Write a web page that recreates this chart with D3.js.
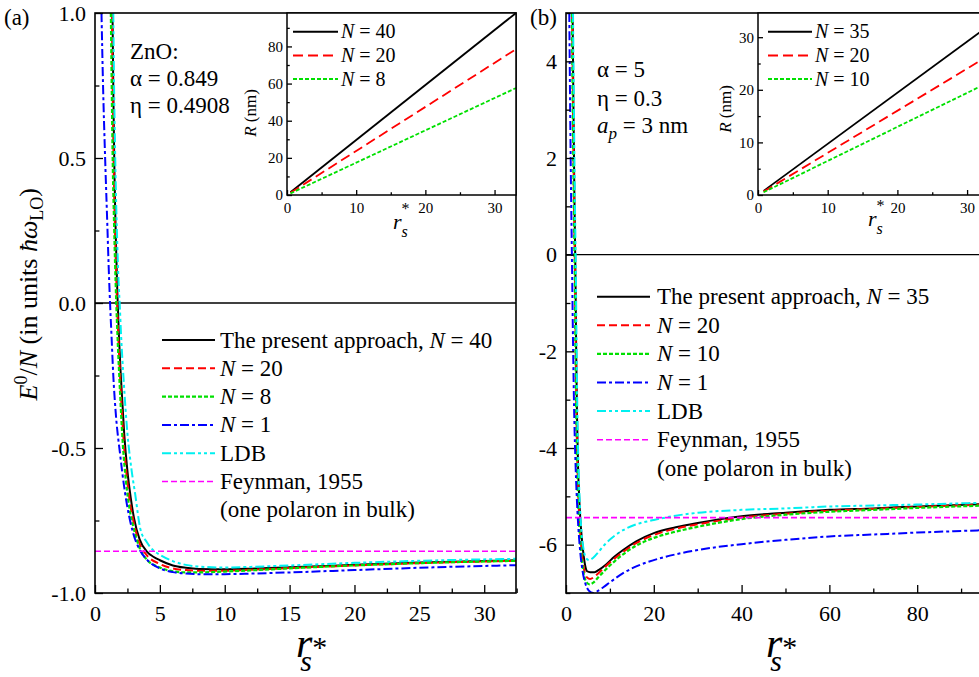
<!DOCTYPE html>
<html><head><meta charset="utf-8">
<script src="https://cdn.jsdelivr.net/npm/d3@7"></script>
</head><body style="margin:0">
<svg id="chart" width="979" height="677"></svg>
<script>
// ---- panel (a): ZnO, E0/N vs rs* ----
var aN40 = [[1.35,1.0],[1.40,0.78],[1.45,0.6],[1.50,0.45],[1.55,0.33],[1.62,0.2],[1.70,0.07],[1.75,0],[1.85,-0.12],[2.0,-0.26],[2.25,-0.45],[2.5,-0.58],[2.75,-0.67],[3.0,-0.74],[3.44,-0.815],[4,-0.857],[4.5,-0.875],[5,-0.887],[6,-0.905],[7,-0.913],[8,-0.917],[10,-0.918],[12,-0.916],[15,-0.911],[20,-0.903],[25,-0.895],[32.5,-0.887]]
var aN20 = [[1.30,1.0],[1.35,0.78],[1.40,0.6],[1.45,0.45],[1.50,0.33],[1.57,0.2],[1.65,0.07],[1.70,0],[1.80,-0.12],[1.95,-0.27],[2.2,-0.47],[2.45,-0.6],[2.7,-0.69],[3.0,-0.76],[3.44,-0.83],[4,-0.87],[5,-0.9],[6,-0.915],[7,-0.921],[8,-0.923],[10,-0.923],[12,-0.92],[15,-0.914],[20,-0.905],[25,-0.897],[32.5,-0.889]]
var aN8 = [[1.22,1.0],[1.28,0.78],[1.33,0.6],[1.38,0.45],[1.44,0.33],[1.51,0.2],[1.59,0.07],[1.64,0],[1.74,-0.12],[1.9,-0.28],[2.15,-0.49],[2.4,-0.62],[2.7,-0.72],[3.0,-0.78],[3.44,-0.845],[4,-0.885],[5,-0.912],[6,-0.925],[7,-0.929],[8,-0.929],[10,-0.926],[12,-0.922],[15,-0.915],[20,-0.905],[25,-0.897],[32.5,-0.889]]
var aN1 = [[0.5,1.0],[0.62,0.75],[0.78,0.5],[0.95,0.27],[1.05,0.13],[1.16,0],[1.28,-0.12],[1.41,-0.25],[1.6,-0.38],[1.93,-0.52],[2.3,-0.65],[2.95,-0.795],[3.5,-0.855],[4,-0.885],[5,-0.915],[6,-0.928],[7,-0.933],[8,-0.935],[10,-0.935],[12,-0.933],[15,-0.929],[20,-0.921],[25,-0.913],[32.5,-0.904]]
var aLDB = [[1.41,1.0],[1.46,0.78],[1.52,0.6],[1.58,0.45],[1.64,0.33],[1.72,0.2],[1.82,0.07],[1.9,0],[2.02,-0.12],[2.2,-0.26],[2.5,-0.45],[2.8,-0.57],[3.1,-0.66],[3.5,-0.78],[4,-0.825],[4.5,-0.853],[5,-0.868],[6,-0.89],[7,-0.903],[8,-0.909],[10,-0.912],[12,-0.91],[15,-0.905],[20,-0.896],[25,-0.889],[32.5,-0.882]]
var aFeynman = -0.856

// ---- panel (b): alpha = 5 ----
var bN35 = [[1.5,5.0],[1.7,3.0],[1.9,1.3],[2.05,0.3],[2.15,-0.4],[2.3,-1.8],[2.5,-3.3],[2.75,-4.4],[3.04,-5.1],[3.4,-5.65],[3.8,-6.05],[4.3,-6.4],[4.8,-6.55],[5.5,-6.57],[6.5,-6.57],[7.5,-6.52],[9,-6.42],[11,-6.25],[13,-6.11],[16,-5.93],[20,-5.76],[25,-5.64],[30,-5.55],[40,-5.41],[50,-5.34],[60,-5.28],[70,-5.25],[80,-5.21],[95.5,-5.16]]
var bN20 = [[1.4,5.0],[1.6,3.0],[1.8,1.3],[1.95,0.3],[2.05,-0.4],[2.2,-1.8],[2.4,-3.4],[2.65,-4.55],[2.95,-5.3],[3.3,-5.85],[3.7,-6.25],[4.2,-6.55],[4.8,-6.68],[5.5,-6.71],[6.5,-6.66],[7.5,-6.58],[9,-6.45],[11,-6.29],[13,-6.15],[16,-5.97],[20,-5.8],[25,-5.67],[30,-5.58],[40,-5.44],[50,-5.36],[60,-5.3],[70,-5.26],[80,-5.22],[95.5,-5.17]]
var bN10 = [[1.35,5.0],[1.55,3.0],[1.75,1.3],[1.9,0.3],[2.0,-0.4],[2.15,-1.8],[2.35,-3.45],[2.6,-4.65],[2.9,-5.4],[3.25,-5.95],[3.65,-6.35],[4.15,-6.65],[4.7,-6.78],[5.4,-6.82],[6.3,-6.78],[7.5,-6.66],[9,-6.52],[11,-6.35],[13,-6.2],[16,-6.02],[20,-5.86],[25,-5.73],[30,-5.63],[40,-5.47],[50,-5.38],[60,-5.32],[70,-5.28],[80,-5.24],[95.5,-5.19]]
var bN1 = [[0.75,5.0],[0.95,3.0],[1.15,1.3],[1.3,0.3],[1.4,-0.4],[1.6,-1.8],[1.85,-3.2],[2.2,-4.4],[2.6,-5.3],[3.1,-6.0],[3.7,-6.5],[4.4,-6.8],[5.2,-6.95],[6.2,-7.0],[7.0,-6.97],[8.5,-6.88],[10,-6.78],[13,-6.59],[16,-6.45],[20,-6.32],[25,-6.2],[30,-6.11],[40,-5.99],[50,-5.9],[60,-5.83],[70,-5.79],[80,-5.75],[95.5,-5.70]]
var bLDB = [[1.6,5.0],[1.8,3.0],[2.0,1.3],[2.15,0.3],[2.25,-0.4],[2.4,-1.8],[2.6,-3.3],[2.85,-4.4],[3.15,-5.15],[3.55,-5.75],[4.0,-6.1],[4.6,-6.28],[5.3,-6.32],[6.2,-6.27],[7.5,-6.14],[9,-5.98],[11,-5.82],[13,-5.7],[16,-5.58],[20,-5.49],[25,-5.4],[30,-5.34],[40,-5.28],[50,-5.25],[60,-5.21],[70,-5.19],[80,-5.17],[95.5,-5.13]]
var bFeynman = -5.44

// ---- insets: R (nm) vs rs* ----
var insA_N40 = [[0.5,1.48],[33.1,98]]
var insA_N20 = [[0.5,1.18],[33.1,78.5]]
var insA_N8 = [[0.5,0.87],[33.1,57.6]]
var insB_N35 = [[0.8,0.78],[32.6,31.7]]
var insB_N20 = [[0.8,0.64],[32.6,26.1]]
var insB_N10 = [[0.8,0.52],[32.6,21.1]]

var legendA = ['The present approach, N = 40', 'N = 20', 'N = 8', 'N = 1', 'LDB', 'Feynman, 1955']
var legendB = ['The present approach, N = 35', 'N = 20', 'N = 10', 'N = 1', 'LDB', 'Feynman, 1955']
var insLegendA = ['N = 40', 'N = 20', 'N = 8']
var insLegendB = ['N = 35', 'N = 20', 'N = 10']

var sty = {
  black:   {color: '#000000', dash: null, w: 2},
  red:     {color: '#ff0000', dash: '8,4', w: 2},
  green:   {color: '#00e000', dash: '4,2', w: 2.2},
  blue:    {color: '#0000ff', dash: '9,3,3,3', w: 2},
  cyan:    {color: '#00f0f0', dash: '9,3,3,3,3,3', w: 2},
  magenta: {color: '#ff00ff', dash: '6,3', w: 1.6}
}
var order = ['black', 'red', 'green', 'blue', 'cyan', 'magenta']
var FONT = 'Liberation Serif'

var svg = d3.select('#chart')

function txt(sel) {
  return sel.append('text').attr('font-family', FONT)
}

// text with italic N
function richText(sel, str) {
  var parts = str.split('N')
  parts.forEach(function(p, i) {
    if (i > 0) sel.append('tspan').attr('font-style', 'italic').text('N')
    if (p) sel.append('tspan').text(p)
  })
}

function styleAxis(g, fs) {
  g.select('.domain').remove()
  g.attr('font-family', FONT).attr('font-size', fs)
  g.selectAll('line').attr('stroke', '#000').attr('stroke-width', 1.3)
  g.selectAll('text').attr('fill', '#000')
}

function drawAxes(g, x, y, o) {
  var y0 = y.range()[0], x0 = x.range()[0]
  g.append('g').attr('transform', 'translate(0,' + y0 + ')')
    .call(d3.axisBottom(x).tickValues(o.xMajor).tickSize(-o.tl).tickPadding(o.xPad).tickFormat(o.xFmt))
    .call(styleAxis, o.fs)
  g.append('g').attr('transform', 'translate(0,' + y0 + ')')
    .call(d3.axisBottom(x).tickValues(o.xMinor).tickSize(-o.tl * 0.55).tickFormat(''))
    .call(styleAxis, o.fs)
  g.append('g').attr('transform', 'translate(' + x0 + ',0)')
    .call(d3.axisLeft(y).tickValues(o.yMajor).tickSize(-o.tl).tickPadding(o.yPad).tickFormat(o.yFmt))
    .call(styleAxis, o.fs)
  g.append('g').attr('transform', 'translate(' + x0 + ',0)')
    .call(d3.axisLeft(y).tickValues(o.yMinor).tickSize(-o.tl * 0.55).tickFormat(''))
    .call(styleAxis, o.fs)
}

function drawSeries(g, x, y, list, clip) {
  var line = d3.line().x(function(d) { return x(d[0]) }).y(function(d) { return y(d[1]) })
    .curve(d3.curveMonotoneX)
  var lg = g.append('g').attr('clip-path', 'url(#' + clip + ')')
  list.forEach(function(s) {
    var st = sty[s.key]
    lg.append('path').datum(s.data)
      .attr('d', line)
      .attr('fill', 'none')
      .attr('stroke', st.color)
      .attr('stroke-width', s.w || st.w)
      .attr('stroke-dasharray', s.dash !== undefined ? s.dash : st.dash)
  })
}

function legend(g, labels, keys, o) {
  labels.forEach(function(lab, i) {
    var yy = o.y + i * o.dy
    var st = sty[keys[i]]
    g.append('line').attr('x1', o.x1).attr('x2', o.x2).attr('y1', yy).attr('y2', yy)
      .attr('stroke', st.color).attr('stroke-width', o.w || st.w)
      .attr('stroke-dasharray', (o.dash && o.dash[i] !== undefined) ? o.dash[i] : st.dash)
    var t = txt(g).attr('x', o.tx).attr('y', yy + o.fs * 0.33).attr('font-size', o.fs)
    richText(t, lab)
  })
}

// r_s^* as one text: r, then the star raised, then s pulled back underneath
function rsTitle(g, x, y, big, small, starDy, sDx, sDy) {
  var t = txt(g).attr('x', x).attr('y', y).attr('font-size', big)
  t.append('tspan').attr('font-style', 'italic').text('r')
  t.append('tspan').attr('font-size', small).attr('dy', starDy).text('*')
  t.append('tspan').attr('font-size', small).attr('font-style', 'italic').attr('dx', sDx).attr('dy', sDy).text('s')
}

function mainPanel(o) {
  var g = svg.append('g')
  var x = d3.scaleLinear().domain(o.xd).range(o.xr)
  var y = d3.scaleLinear().domain(o.yd).range(o.yr)
  g.append('clipPath').attr('id', o.id).append('rect')
    .attr('x', o.xr[0]).attr('y', o.yr[1]).attr('width', o.xr[1] - o.xr[0]).attr('height', o.yr[0] - o.yr[1])
  // zero line
  g.append('line').attr('x1', o.xr[0]).attr('x2', o.xr[1]).attr('y1', y(0)).attr('y2', y(0))
    .attr('stroke', '#000').attr('stroke-width', 1.3)
  var list = o.series.map(function(d, i) { return {key: order[i], data: d} })
  list.push({key: 'magenta', data: [[o.xd[0], o.feyn], [o.xd[1], o.feyn]]})
  drawSeries(g, x, y, list, o.id)
  drawAxes(g, x, y, o.ax)
  g.append('rect').attr('x', o.xr[0]).attr('y', o.yr[1]).attr('width', o.xr[1] - o.xr[0]).attr('height', o.yr[0] - o.yr[1])
    .attr('fill', 'none').attr('stroke', '#000').attr('stroke-width', 1.6)
  return g
}

function inset(o) {
  var g = svg.append('g')
  var x = d3.scaleLinear().domain(o.xd).range(o.xr)
  var y = d3.scaleLinear().domain(o.yd).range(o.yr)
  g.append('rect').attr('x', o.xr[0]).attr('y', o.yr[1]).attr('width', o.xr[1] - o.xr[0]).attr('height', o.yr[0] - o.yr[1])
    .attr('fill', '#fff')
  g.append('clipPath').attr('id', o.id).append('rect')
    .attr('x', o.xr[0]).attr('y', o.yr[1]).attr('width', o.xr[1] - o.xr[0]).attr('height', o.yr[0] - o.yr[1])
  var list = o.series.map(function(d, i) {
    return {key: order[i], data: d, dash: [null, '10,5', '4,2'][i], w: 1.8}
  })
  drawSeries(g, x, y, list, o.id)
  drawAxes(g, x, y, o.ax)
  g.append('rect').attr('x', o.xr[0]).attr('y', o.yr[1]).attr('width', o.xr[1] - o.xr[0]).attr('height', o.yr[0] - o.yr[1])
    .attr('fill', 'none').attr('stroke', '#000').attr('stroke-width', 1.5)
  // axis titles
  var t = txt(g).attr('transform', 'translate(' + o.yt[0] + ',' + o.yt[1] + ') rotate(-90)')
    .attr('text-anchor', 'middle').attr('font-size', 17)
  t.append('tspan').attr('font-style', 'italic').text('R')
  t.append('tspan').text(' (nm)')
  rsTitle(g, o.xt[0], o.xt[1], 22, 16, -15, -8, 23)
  legend(g, o.labels, ['black', 'red', 'green'], {x1: o.lg[0], x2: o.lg[1], tx: o.lg[2], y: 31.7, dy: 23.7, fs: 20, w: 2,
    dash: [null, '10,5', '4,2']})
}

var axA = {xMajor: [0, 5, 10, 15, 20, 25, 30], xMinor: [2.5, 7.5, 12.5, 17.5, 22.5, 27.5, 32.5],
  yMajor: [-1, -0.5, 0, 0.5, 1], yMinor: [-0.75, -0.25, 0.25, 0.75],
  tl: 8, xPad: 12, yPad: 9, fs: 22, xFmt: function(d) { return d }, yFmt: function(d) { return d.toFixed(1) }}
var axB = {xMajor: [0, 20, 40, 60, 80], xMinor: [10, 30, 50, 70, 90],
  yMajor: [-6, -4, -2, 0, 2, 4], yMinor: [-7, -5, -3, -1, 1, 3, 5],
  tl: 8, xPad: 12, yPad: 9, fs: 22, xFmt: function(d) { return d }, yFmt: function(d) { return d }}

mainPanel({id: 'clipA', xd: [0, 32.45], xr: [95, 516], yd: [-1, 1], yr: [593, 13],
  series: [aN40, aN20, aN8, aN1, aLDB], feyn: aFeynman, ax: axA})
mainPanel({id: 'clipB', xd: [0, 95.45], xr: [566, 985], yd: [-7, 5], yr: [593, 13],
  series: [bN35, bN20, bN10, bN1, bLDB], feyn: bFeynman, ax: axB})

var insAx = function(xMinor, yMajor, yMinor) {
  return {xMajor: [0, 10, 20, 30], xMinor: xMinor, yMajor: yMajor, yMinor: yMinor,
    tl: 5, xPad: 7, yPad: 4, fs: 15, xFmt: function(d) { return d }, yFmt: function(d) { return d }}
}
inset({id: 'clipIA', xd: [0, 33.1], xr: [287, 516], yd: [0, 98], yr: [195, 13],
  series: [insA_N40, insA_N20, insA_N8], ax: insAx([5, 15, 25], [0, 20, 40, 60, 80], [10, 30, 50, 70, 90]),
  yt: [256, 113], xt: [393, 229], labels: insLegendA, lg: [293, 338, 341]})
inset({id: 'clipIB', xd: [0, 32.57], xr: [758, 985], yd: [0, 34.6], yr: [195, 13],
  series: [insB_N35, insB_N20, insB_N10], ax: insAx([5, 15, 25], [0, 10, 20, 30], [5, 15, 25]),
  yt: [731, 109], xt: [868, 226], labels: insLegendB, lg: [768, 812, 815]})

// main legends
var lgA = svg.append('g')
legend(lgA, legendA, order, {x1: 162, x2: 215, tx: 220, y: 340, dy: 28.3, fs: 23})
txt(lgA).attr('x', 220).attr('y', 340 + 6 * 28.3 + 7.6).attr('font-size', 23).text('(one polaron in bulk)')
var lgB = svg.append('g')
legend(lgB, legendB, order, {x1: 597, x2: 650, tx: 657, y: 296.7, dy: 28.6, fs: 23})
txt(lgB).attr('x', 657).attr('y', 296.7 + 6 * 28.6 + 7.6).attr('font-size', 23).text('(one polaron in bulk)')

// annotations
var ann = svg.append('g').attr('font-size', 23)
txt(ann).attr('x', 130).attr('y', 59).text('ZnO:')
txt(ann).attr('x', 130).attr('y', 86).text('\u03b1 = 0.849')
txt(ann).attr('x', 130).attr('y', 113).text('\u03b7 = 0.4908')
txt(ann).attr('x', 597).attr('y', 77).text('\u03b1 = 5')
txt(ann).attr('x', 597).attr('y', 106).text('\u03b7 = 0.3')
var ap = txt(ann).attr('x', 597).attr('y', 133)
ap.append('tspan').attr('font-style', 'italic').text('a')
ap.append('tspan').attr('font-style', 'italic').attr('font-size', 17).attr('dy', 6).text('p')
ap.append('tspan').attr('dy', -6).text(' = 3 nm')

txt(ann).attr('x', 4).attr('y', 25).text('(a)')
txt(ann).attr('x', 530).attr('y', 25).text('(b)')

// main x titles
rsTitle(svg, 296, 657, 42, 30, 0, -27, 14)
rsTitle(svg, 766, 657, 42, 30, 0, -27, 14)

// y title
var yt = txt(svg).attr('transform', 'translate(37,188) rotate(-90)')
  .attr('text-anchor', 'end').attr('font-size', 26)
yt.append('tspan').attr('font-style', 'italic').text('E')
yt.append('tspan').attr('font-size', 18).attr('dy', -10).text('0')
yt.append('tspan').attr('dy', 10).text('/')
yt.append('tspan').attr('font-style', 'italic').text('N')
yt.append('tspan').text(' (in units ')
yt.append('tspan').attr('font-style', 'italic').text('\u0127\u03c9')
yt.append('tspan').attr('font-size', 18).attr('dy', 6).text('LO')
yt.append('tspan').attr('dy', -6).text(')')
</script>
</body>
</html>
